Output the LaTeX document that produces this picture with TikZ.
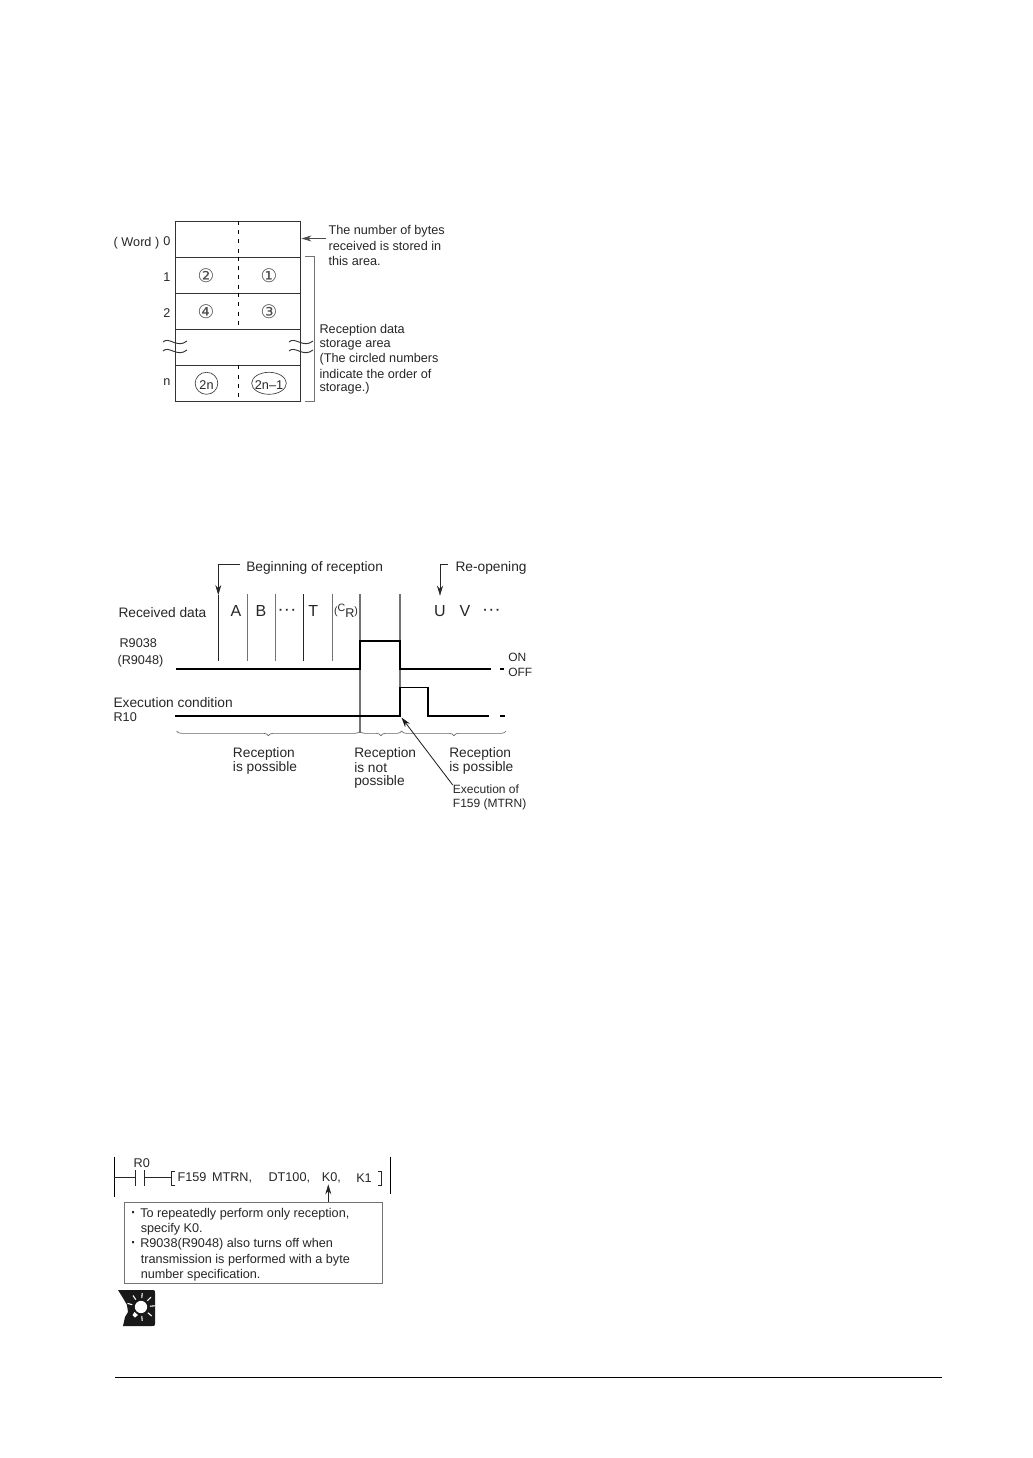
\documentclass[tikz,border=0pt]{standalone}
\usepackage{fontspec}
\usetikzlibrary{arrows.meta,decorations.pathreplacing,calc,shapes.geometric}
\setmainfont{Liberation Sans}
\newfontfamily\dejavu{DejaVu Sans}
\tikzset{
  txt/.style={inner sep=0pt,anchor=west,yshift=-1pt,text=black!85,font=\fontsize{9.5}{10}\selectfont},
  ttxt/.style={txt,font=\fontsize{10.3}{11}\selectfont},
  smalltxt/.style={txt,font=\fontsize{9}{10}\selectfont},
  cen/.style={txt,anchor=center},
  cell/.style={draw=black!80,line width=0.75pt,minimum width=94.1pt,inner sep=0pt,anchor=north west},
  dashline/.style={draw=black,line width=0.8pt,dash pattern=on 3pt off 4pt},
  thinline/.style={draw=black!85,line width=0.7pt},
  tickline/.style={draw=black!55,line width=0.7pt},
  trace/.style={draw=black,line width=1.2pt},
  grayb/.style={draw=black!55,line width=0.8pt},
  conn/.style={draw=black!70,line width=0.5pt,-{Stealth[length=7.5pt,width=4.5pt]}},
  ell/.style={draw=black!75,line width=0.5pt,ellipse,inner sep=0pt},
  brk/.style={draw=black!60,line width=0.5pt,decorate,decoration={brace,mirror,amplitude=3.5pt}},
  circnum/.style={cen,text=black!70,font=\dejavu\fontsize{14}{15}\selectfont},
  letter/.style={cen,font=\fontsize{12}{13}\selectfont}
}
\begin{document}
\begin{tikzpicture}[x=0.75pt,y=-0.75pt]
\useasboundingbox (0,0) rectangle (1032,1458);
% memory map
\node[cell,minimum height=27pt] (r0) at (175,220.7) {};
\node[cell,minimum height=27.2pt] (r1) at (175,256.7) {};
\node[cell,minimum height=27pt] (r2) at (175,293) {};
\node[cell,minimum height=27.2pt] (r3) at (175,329) {};
\node[cell,minimum height=27pt] (r4) at (175,365.3) {};
\foreach \r in {r0,r1,r2,r4}{\draw[dashline] ($(\r.north west)!0.5!(\r.north east)$) -- ($(\r.south west)!0.5!(\r.south east)$);}
\node[cen] (w) at (136.5,241.7) {( Word )};
\node[cen] (w0) at (167,239.5) {0};
\node[cen] (w1) at (167,275.7) {1};
\node[cen] (w2) at (167,311.7) {2};
\node[cen] (wn) at (167,380.7) {n};
\node[circnum] (c2) at (206,274) {②};
\node[circnum] (c1) at (269,274) {①};
\node[circnum] (c4) at (206,310) {④};
\node[circnum] (c3) at (269,310) {③};
\node[cen] (t2n) at (206.5,383.3) {2n};
\node[cen] (t2n1) at (269,383.3) {2n–1};
\node[ell,minimum width=17pt,minimum height=16.5pt] (e2n) at (206.5,383.3) {};
\node[ell,minimum width=26pt,minimum height=16.5pt] (e2n1) at (269,383.3) {};
\foreach \x in {163,289}{
  \draw[black!80,line width=0.7pt] (\x,342) .. controls (\x+6,336) and (\x+14,349) .. (\x+24,341);
  \draw[black!80,line width=0.7pt] (\x,351) .. controls (\x+6,345) and (\x+14,358) .. (\x+24,350);
}
\node[txt] (nb1) at (328.3,230) {The number of bytes};
\node[txt] (nb2) at (328.3,245) {received is stored in};
\node[txt] (nb3) at (328.3,259.3) {this area.};
\coordinate (nbs) at (326,238.5);
\draw[conn] (nbs) -- (r0.east|-nbs);
\draw[black!55,line width=0.5pt] (305,256.7) -- (314,256.7) -- (314,401.3) -- (305,401.3);
\node[txt] (rd1) at (319.3,329.3) {Reception data};
\node[txt] (rd2) at (319.3,343.3) {storage area};
\node[txt] (rd3) at (319.3,358.3) {(The circled numbers};
\node[txt] (rd4) at (319.3,372.3) {indicate the order of};
\node[txt] (rd5) at (319.3,386.7) {storage.)};
% timing
\node[ttxt] (bg) at (246,566.7) {Beginning of reception};
\node[ttxt] (ro) at (455.3,566.7) {Re-opening};
\coordinate (v0t) at (218.3,564.3);
\coordinate (v0a) at (218.3,595);
\coordinate (v0b) at (218.3,660.7);
\coordinate (bgs) at (240,564.3);
\coordinate (ros) at (448.3,564.3);
\coordinate (roc) at (440,564.3);
\coordinate (roa) at (440,595.7);
\draw[conn,draw=black!85] (bgs) -- (v0t) -- (v0a);
\draw[conn,draw=black!85] (ros) -- (roc) -- (roa);
\draw[thinline] (v0a) -- (v0b);
\foreach \x/\s in {247/tickline,275/tickline,303.3/thinline,332/tickline}{\draw[\s] (\x,594) -- (\x,660.7);}
\draw[grayb] (360,594) -- (360,733);
\draw[grayb] (400,594) -- (400,716);
\node[letter] (dA) at (236,609.3) {A};
\node[letter] (dB) at (261,609.3) {B};
\node[cen] (dd1) at (287.3,610.5) {\textbf{·\,·\,·}};
\node[letter] (dT) at (313.3,609.3) {T};
\node[cen,font=\fontsize{8}{9}\selectfont] (dCR) at (346,609.3) {(\raisebox{2.5pt}{C}\raisebox{-2pt}{\fontsize{9.5}{10}\selectfont R})};
\node[letter] (dU) at (440,609.3) {U};
\node[letter] (dV) at (465,609.3) {V};
\node[cen] (dd2) at (491.7,610.5) {\textbf{·\,·\,·}};
\node[ttxt] (lrd) at (118.3,611.7) {Received data};
\node[txt] (l38) at (119.3,642.3) {R9038};
\node[txt] (l48) at (117.3,660) {(R9048)};
\node[ttxt] (lec) at (113.3,701) {Execution condition};
\node[txt] (lr10) at (113.3,716) {R10};
\node[txt,font=\fontsize{9}{10}\selectfont] (lon) at (508,655.7) {ON};
\node[txt,font=\fontsize{9}{10}\selectfont] (loff) at (508,671) {OFF};
\draw[trace] (176,669) -- (360,669) -- (360,640.7) -- (400,640.7) -- (400,669) -- (490.7,669);
\draw[trace,line width=1pt] (500,669) -- (504,669);
\draw[trace] (175.3,716) -- (400,716) -- (400,687.3) -- (427.7,687.3) -- (427.7,716) -- (489.3,716);
\draw[trace,line width=1pt] (500,716) -- (505,716);
\draw[brk] (176.7,731) -- (360,731);
\draw[brk] (360,731) -- (401.7,731);
\draw[brk] (401.7,731) -- (506,731);
\node[ttxt] (a1) at (232.7,752.3) {Reception};
\node[ttxt] (a2) at (232.7,766.7) {is possible};
\node[ttxt] (b1) at (354,752.3) {Reception};
\node[ttxt] (b2) at (354,766.7) {is not};
\node[ttxt] (b3) at (354,780.7) {possible};
\node[ttxt] (c5) at (449,752.3) {Reception};
\node[ttxt] (c6) at (449,766.7) {is possible};
\node[smalltxt] (ex1) at (452.7,788.3) {Execution of};
\node[smalltxt] (ex2) at (452.7,803.3) {F159 (MTRN)};
\coordinate (tr) at (401.5,717.5);
\draw[conn,draw=black!90,line width=0.6pt] (ex1.north west) -- (tr);
% ladder
\coordinate (w1a) at (114,1177.3);
\coordinate (w1b) at (135,1177.3);
\coordinate (w2a) at (144.3,1177.3);
\coordinate (w2b) at (171.7,1177.3);
\draw[black,line width=0.75pt] (114,1156.7) -- (114,1196.7);
\draw[black,line width=0.75pt] (390,1156.7) -- (390,1194);
\draw[black!85,line width=0.6pt] (w1a) -- (w1b);
\draw[black!85,line width=0.6pt] (w2a) -- (w2b);
\draw[black!85,line width=0.7pt] (135,1170) -- (135,1185.7);
\draw[black!85,line width=0.7pt] (144.3,1170) -- (144.3,1185.7);
\draw[black!85,line width=0.7pt] (175,1171.7) -- (171.7,1171.7) -- (171.7,1185) -- (175,1185);
\draw[black!85,line width=0.7pt] (378,1171.7) -- (381.7,1171.7) -- (381.7,1185) -- (378,1185);
\node[cen] (r00) at (141.7,1161.5) {R0};
\node[txt] (f159) at (177.3,1176.7) {F159 \,MTRN,};
\node[txt] (dt) at (268.3,1176.7) {DT100,};
\node[txt] (k0) at (321.7,1176.7) {K0,};
\node[txt] (k1) at (356,1176.7) {K1};
\node[draw=black!55,line width=0.5pt,minimum width=193pt,minimum height=61.2pt,inner sep=0pt,anchor=north west] (note) at (124.3,1201.7) {};
\coordinate (nt) at (328.3,1201.7);
\coordinate (nh) at (328.3,1184.3);
\draw[conn,draw=black!85] (nt) -- (nh);
\node[cen,font=\fontsize{11}{12}\selectfont\bfseries] (bu1) at (133.5,1213.3) {·};
\node[cen,font=\fontsize{11}{12}\selectfont\bfseries] (bu2) at (133.5,1243.3) {·};
\node[txt] (n1) at (140,1213.3) {To repeatedly perform only reception,};
\node[txt] (n2) at (140.5,1228.3) {specify K0.};
\node[txt] (n3) at (140,1243.3) {R9038(R9048) also turns off when};
\node[txt] (n4) at (140.5,1259) {transmission is performed with a byte};
\node[txt] (n5) at (140.5,1274) {number specification.};
% icon
\fill[black!90] (118,1290) -- (153,1290) .. controls (155,1290) and (155,1291) .. (155,1293) -- (155,1324) .. controls (155,1326) and (154,1326) .. (152,1326) -- (123,1326) -- (125,1317) -- (128,1312) -- (127,1305) -- (123,1298) -- cycle;
\fill[white] (141,1307) circle (4.6pt);
\fill[white] (134.5,1312) -- (138,1315) -- (135,1317.5) -- (132.5,1315) -- cycle;
\foreach \a in {-5,-45,-85,-125,-165,40,85}{\draw[white,line width=0.8pt] (141,1307) ++(\a:9) -- ++(\a:5);}
% rule
\draw[black,line width=0.7pt] (115,1377) -- (942,1377);
\end{tikzpicture}
\end{document}
